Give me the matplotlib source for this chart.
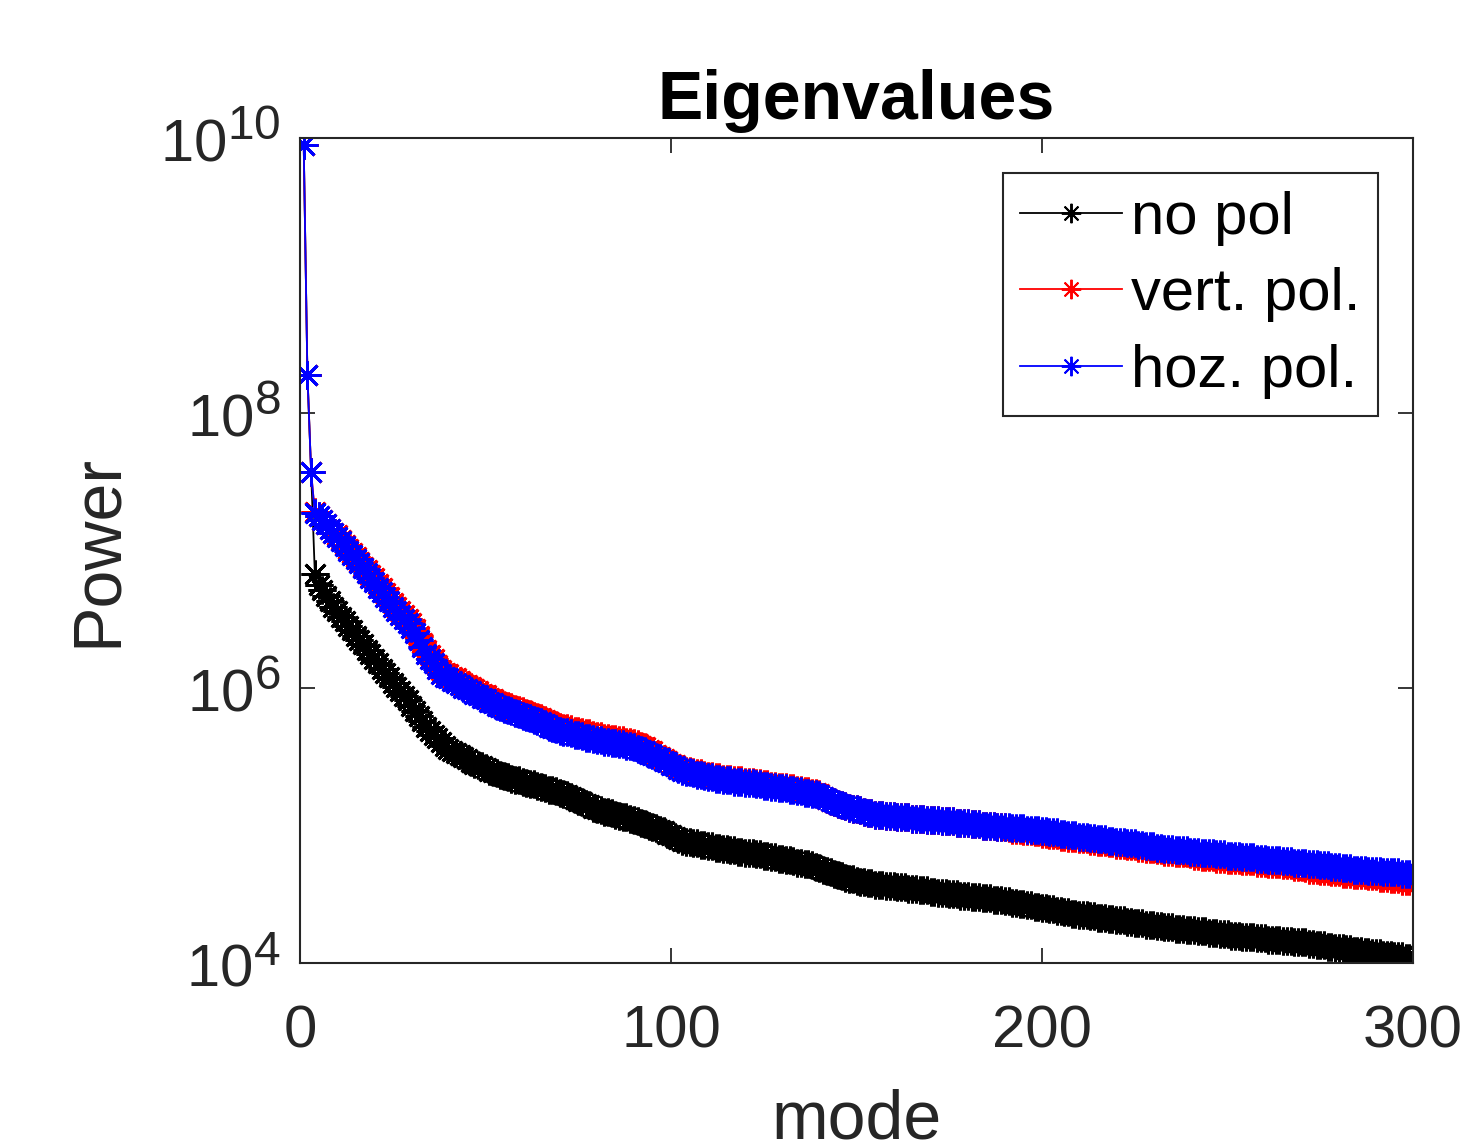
import matplotlib as mpl
mpl.use('Agg')
import matplotlib.pyplot as plt
import matplotlib._mathtext as mathtext
from matplotlib.ticker import NullLocator
import numpy as np

plt.rcParams['font.family'] = ['Liberation Sans', 'DejaVu Sans']
plt.rcParams['mathtext.fontset'] = 'custom'
plt.rcParams['mathtext.rm'] = 'Liberation Sans'
plt.rcParams['mathtext.it'] = 'Liberation Sans:italic'
plt.rcParams['mathtext.bf'] = 'Liberation Sans:bold'
# bigger exponents, closer to the matlab look
mathtext.SHRINK_FACTOR = 0.8

# eigenvalue index (mode number)
modes = np.arange(1, 301)

# log10 of the eigenvalue power
no_pol_exp = [
    9.95, 8.28, 7.57, 6.83, 6.75, 6.71, 6.67, 6.63, 6.59, 6.56,
    6.52, 6.49, 6.45, 6.42, 6.38, 6.35, 6.32, 6.28, 6.25, 6.21,
    6.18, 6.14, 6.11, 6.08, 6.04, 6.01, 5.98, 5.94, 5.91, 5.87,
    5.83, 5.80, 5.76, 5.72, 5.69, 5.66, 5.64, 5.61, 5.58, 5.56,
    5.54, 5.53, 5.51, 5.50, 5.48, 5.46, 5.45, 5.44, 5.43, 5.42,
    5.40, 5.39, 5.38, 5.37, 5.36, 5.35, 5.34, 5.33, 5.33, 5.32,
    5.31, 5.30, 5.30, 5.29, 5.28, 5.27, 5.26, 5.26, 5.25, 5.24,
    5.23, 5.22, 5.21, 5.19, 5.18, 5.17, 5.16, 5.15, 5.13, 5.12,
    5.11, 5.10, 5.10, 5.09, 5.08, 5.07, 5.06, 5.06, 5.05, 5.04,
    5.03, 5.02, 5.01, 5.00, 4.99, 4.98, 4.97, 4.96, 4.94, 4.93,
    4.92, 4.90, 4.89, 4.88, 4.88, 4.87, 4.87, 4.86, 4.86, 4.85,
    4.85, 4.84, 4.84, 4.83, 4.83, 4.82, 4.82, 4.81, 4.81, 4.80,
    4.80, 4.80, 4.79, 4.79, 4.78, 4.78, 4.77, 4.77, 4.76, 4.76,
    4.75, 4.75, 4.74, 4.73, 4.73, 4.72, 4.72, 4.71, 4.70, 4.69,
    4.68, 4.67, 4.66, 4.65, 4.64, 4.63, 4.62, 4.61, 4.61, 4.60,
    4.59, 4.59, 4.58, 4.58, 4.57, 4.57, 4.57, 4.56, 4.56, 4.56,
    4.55, 4.55, 4.55, 4.54, 4.54, 4.54, 4.53, 4.53, 4.53, 4.52,
    4.52, 4.51, 4.51, 4.51, 4.50, 4.50, 4.50, 4.49, 4.49, 4.49,
    4.48, 4.48, 4.48, 4.47, 4.47, 4.47, 4.46, 4.46, 4.46, 4.45,
    4.45, 4.44, 4.44, 4.43, 4.43, 4.42, 4.42, 4.41, 4.41, 4.40,
    4.40, 4.39, 4.39, 4.38, 4.38, 4.37, 4.37, 4.36, 4.36, 4.35,
    4.35, 4.35, 4.34, 4.34, 4.33, 4.33, 4.33, 4.32, 4.32, 4.31,
    4.31, 4.31, 4.30, 4.30, 4.29, 4.29, 4.29, 4.28, 4.28, 4.28,
    4.27, 4.27, 4.26, 4.26, 4.26, 4.25, 4.25, 4.25, 4.24, 4.24,
    4.24, 4.23, 4.23, 4.23, 4.22, 4.22, 4.22, 4.21, 4.21, 4.21,
    4.20, 4.20, 4.20, 4.19, 4.19, 4.19, 4.19, 4.18, 4.18, 4.18,
    4.17, 4.17, 4.17, 4.17, 4.16, 4.16, 4.16, 4.15, 4.15, 4.15,
    4.15, 4.14, 4.14, 4.13, 4.13, 4.13, 4.12, 4.12, 4.11, 4.11,
    4.11, 4.10, 4.10, 4.09, 4.09, 4.09, 4.08, 4.08, 4.07, 4.07,
    4.07, 4.06, 4.06, 4.06, 4.05, 4.05, 4.05, 4.04, 4.04, 4.04,
]

vert_pol_exp = [
    9.95, 8.28, 7.57, 7.28, 7.25, 7.22, 7.19, 7.16, 7.13, 7.11,
    7.08, 7.04, 7.01, 6.98, 6.95, 6.92, 6.88, 6.86, 6.82, 6.80,
    6.76, 6.73, 6.69, 6.66, 6.62, 6.59, 6.56, 6.53, 6.50, 6.47,
    6.43, 6.38, 6.33, 6.28, 6.24, 6.21, 6.17, 6.13, 6.11, 6.10,
    6.08, 6.07, 6.05, 6.03, 6.02, 6.01, 5.99, 5.98, 5.96, 5.95,
    5.93, 5.92, 5.90, 5.89, 5.88, 5.87, 5.86, 5.85, 5.84, 5.83,
    5.82, 5.81, 5.80, 5.79, 5.78, 5.77, 5.75, 5.74, 5.73, 5.72,
    5.71, 5.71, 5.70, 5.69, 5.69, 5.68, 5.67, 5.67, 5.66, 5.65,
    5.65, 5.64, 5.64, 5.63, 5.63, 5.62, 5.62, 5.61, 5.61, 5.60,
    5.59, 5.58, 5.57, 5.55, 5.54, 5.51, 5.50, 5.48, 5.47, 5.45,
    5.44, 5.42, 5.41, 5.40, 5.40, 5.39, 5.38, 5.38, 5.37, 5.36,
    5.36, 5.35, 5.35, 5.34, 5.34, 5.34, 5.33, 5.33, 5.33, 5.32,
    5.32, 5.32, 5.31, 5.31, 5.30, 5.30, 5.29, 5.29, 5.28, 5.28,
    5.28, 5.27, 5.27, 5.26, 5.26, 5.25, 5.25, 5.24, 5.24, 5.23,
    5.21, 5.19, 5.18, 5.17, 5.16, 5.15, 5.14, 5.13, 5.12, 5.12,
    5.11, 5.10, 5.09, 5.09, 5.08, 5.08, 5.08, 5.07, 5.07, 5.07,
    5.06, 5.06, 5.06, 5.06, 5.05, 5.05, 5.05, 5.05, 5.04, 5.04,
    5.04, 5.04, 5.03, 5.03, 5.03, 5.03, 5.02, 5.02, 5.02, 5.02,
    5.01, 5.01, 5.01, 5.00, 5.00, 5.00, 5.00, 4.99, 4.99, 4.99,
    4.98, 4.97, 4.97, 4.97, 4.96, 4.96, 4.96, 4.95, 4.95, 4.94,
    4.94, 4.93, 4.93, 4.93, 4.92, 4.92, 4.91, 4.91, 4.91, 4.90,
    4.90, 4.90, 4.89, 4.89, 4.88, 4.88, 4.88, 4.87, 4.87, 4.86,
    4.86, 4.86, 4.85, 4.85, 4.85, 4.84, 4.84, 4.83, 4.83, 4.83,
    4.82, 4.82, 4.81, 4.81, 4.81, 4.80, 4.80, 4.80, 4.80, 4.79,
    4.78, 4.78, 4.77, 4.77, 4.77, 4.77, 4.76, 4.76, 4.76, 4.75,
    4.75, 4.75, 4.75, 4.74, 4.74, 4.74, 4.74, 4.73, 4.73, 4.73,
    4.72, 4.72, 4.72, 4.72, 4.71, 4.71, 4.71, 4.70, 4.70, 4.70,
    4.69, 4.68, 4.68, 4.68, 4.67, 4.67, 4.67, 4.66, 4.66, 4.66,
    4.65, 4.65, 4.65, 4.64, 4.64, 4.64, 4.64, 4.63, 4.63, 4.63,
    4.62, 4.62, 4.62, 4.61, 4.61, 4.61, 4.60, 4.60, 4.60, 4.60,
]

hoz_pol_exp = [
    9.95, 8.28, 7.57, 7.27, 7.25, 7.22, 7.19, 7.16, 7.13, 7.10,
    7.07, 7.03, 7.00, 6.97, 6.94, 6.91, 6.87, 6.84, 6.80, 6.77,
    6.73, 6.70, 6.66, 6.63, 6.59, 6.56, 6.53, 6.50, 6.47, 6.44,
    6.40, 6.35, 6.30, 6.25, 6.21, 6.18, 6.14, 6.10, 6.08, 6.07,
    6.05, 6.04, 6.02, 6.00, 5.99, 5.98, 5.96, 5.95, 5.93, 5.92,
    5.90, 5.89, 5.87, 5.86, 5.85, 5.84, 5.83, 5.82, 5.81, 5.80,
    5.79, 5.78, 5.77, 5.76, 5.75, 5.74, 5.72, 5.71, 5.70, 5.69,
    5.68, 5.68, 5.67, 5.66, 5.66, 5.65, 5.64, 5.64, 5.63, 5.62,
    5.62, 5.61, 5.61, 5.60, 5.60, 5.59, 5.59, 5.58, 5.58, 5.57,
    5.56, 5.55, 5.54, 5.52, 5.51, 5.50, 5.49, 5.47, 5.46, 5.44,
    5.43, 5.41, 5.40, 5.39, 5.39, 5.38, 5.37, 5.37, 5.36, 5.35,
    5.35, 5.34, 5.34, 5.33, 5.33, 5.33, 5.32, 5.32, 5.32, 5.31,
    5.31, 5.31, 5.30, 5.30, 5.29, 5.29, 5.28, 5.28, 5.27, 5.27,
    5.27, 5.26, 5.26, 5.25, 5.25, 5.24, 5.24, 5.23, 5.23, 5.22,
    5.21, 5.19, 5.18, 5.17, 5.16, 5.15, 5.14, 5.13, 5.12, 5.12,
    5.11, 5.10, 5.09, 5.09, 5.08, 5.08, 5.08, 5.07, 5.07, 5.07,
    5.06, 5.06, 5.06, 5.06, 5.05, 5.05, 5.05, 5.05, 5.04, 5.04,
    5.04, 5.04, 5.03, 5.03, 5.03, 5.03, 5.02, 5.02, 5.02, 5.02,
    5.01, 5.01, 5.01, 5.00, 5.00, 5.00, 5.00, 4.99, 4.99, 4.99,
    4.99, 4.98, 4.98, 4.98, 4.98, 4.97, 4.97, 4.97, 4.97, 4.96,
    4.96, 4.95, 4.95, 4.95, 4.94, 4.94, 4.93, 4.93, 4.93, 4.92,
    4.92, 4.92, 4.91, 4.91, 4.90, 4.90, 4.90, 4.89, 4.89, 4.88,
    4.88, 4.88, 4.87, 4.87, 4.87, 4.86, 4.86, 4.85, 4.85, 4.85,
    4.84, 4.84, 4.83, 4.83, 4.83, 4.82, 4.82, 4.82, 4.82, 4.81,
    4.81, 4.81, 4.80, 4.80, 4.80, 4.80, 4.79, 4.79, 4.79, 4.78,
    4.78, 4.78, 4.78, 4.77, 4.77, 4.77, 4.77, 4.76, 4.76, 4.76,
    4.75, 4.75, 4.75, 4.75, 4.74, 4.74, 4.74, 4.73, 4.73, 4.73,
    4.73, 4.72, 4.72, 4.72, 4.71, 4.71, 4.71, 4.70, 4.70, 4.70,
    4.69, 4.69, 4.69, 4.68, 4.68, 4.68, 4.68, 4.67, 4.67, 4.67,
    4.67, 4.66, 4.66, 4.66, 4.66, 4.66, 4.65, 4.65, 4.65, 4.65,
]

labels = ['no pol', 'vert. pol.', 'hoz. pol.']
colors = ['k', (1, 0, 0), (0, 0, 1)]
yticks = [1e4, 1e6, 1e8, 1e10]
xticks = [0, 100, 200, 300]

series = [10 ** np.array(no_pol_exp), 10 ** np.array(vert_pol_exp), 10 ** np.array(hoz_pol_exp)]

axcol = '#262626'
fig = plt.figure(figsize=(14.63, 11.41), dpi=100)
ax = fig.add_axes([300 / 1463, 1 - 963 / 1141, 1113 / 1463, 825 / 1141])

# matlab style asterisk marker (8 spokes)
star = (8, 2, 0)
for vals, lab, col in zip(series, labels, colors):
    ax.plot(modes, vals, color=col, lw=1.3, marker=star, markersize=20,
            markeredgewidth=2.1, label=lab)

ax.set_yscale('log')
ax.set_xlim(0, 300)
ax.set_ylim(1e4, 1e10)
ax.set_xticks(xticks)
ax.set_yticks(yticks)
ax.yaxis.set_minor_locator(NullLocator())

ax.tick_params(direction='in', length=11, width=1.3, colors=axcol,
               labelsize=43, top=True, right=True)
ax.tick_params(axis='x', pad=30)
ax.tick_params(axis='y', pad=14)
for sp in ax.spines.values():
    sp.set_color(axcol)
    sp.set_linewidth(1.5)

ax.set_title('Eigenvalues', fontsize=49, fontweight='bold', pad=14)
ax.set_xlabel('mode', fontsize=49, color=axcol, labelpad=21)
ax.set_ylabel('Power', fontsize=49, color=axcol, labelpad=22)

leg = ax.legend(loc='upper right', fontsize=43, numpoints=1, handlelength=1.7,
                handletextpad=0.15, labelspacing=0.36, borderpad=0.3,
                borderaxespad=0.58, fancybox=False, framealpha=1)
leg.get_frame().set_edgecolor(axcol)
leg.get_frame().set_linewidth(1.5)
for h in leg.legend_handles:
    h.set_markersize(14)
    h.set_markeredgewidth(1.4)

fig.savefig('out.png', dpi=100)
